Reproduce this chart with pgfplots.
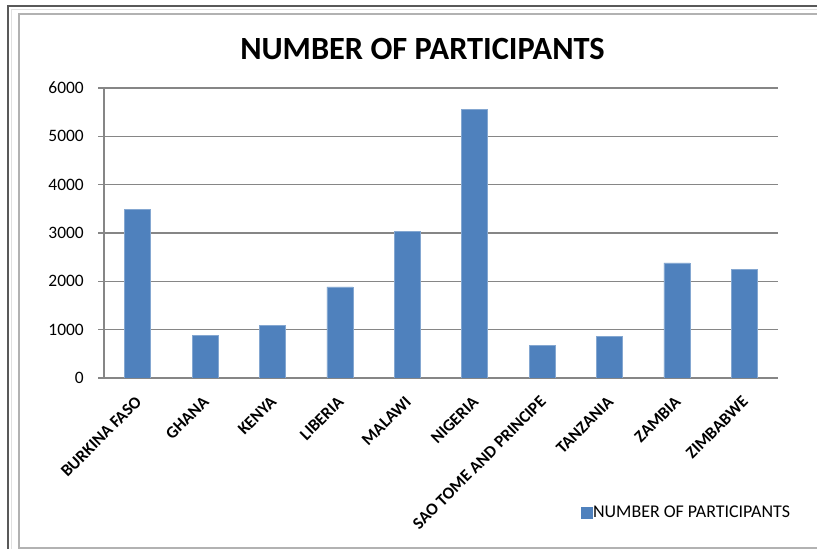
\documentclass[border=0pt]{standalone}
\usepackage{fontspec}
\setmainfont{Carlito}
\usepackage{pgfplots}
\pgfplotsset{compat=1.18}
\definecolor{barblue}{RGB}{79,129,189}
\definecolor{gridgray}{RGB}{134,134,134}
\begin{document}
\begin{tikzpicture}[x=1bp,y=1bp]
\path[use as bounding box] (0,0) rectangle (817,549);
\clip (0,0) rectangle (817,549);
\fill[white] (0,0) rectangle (817,549);
\draw[line width=1.5bp, black!65] (8,-5) -- (8,543) -- (830,543);
\draw[line width=1bp, black!12] (11.5,-5) -- (11.5,539.5) -- (830,539.5);
\draw[line width=1.5bp, black!30] (830,1) -- (19,1) -- (19,535) -- (830,535);
\node[anchor=base, inner sep=0pt, font=\fontsize{32.5}{39}\selectfont\bfseries] at (422.5,489) {NUMBER OF PARTICIPANTS};
\begin{axis}[
  at={(104bp,171bp)}, anchor=south west, scale only axis,
  width=674bp, height=290bp,
  xmin=-0.5, xmax=9.5, ymin=0, ymax=6000,
  axis x line*=bottom, axis y line*=left,
  axis line style={gridgray, line width=1.2bp},
  ytick={0,1000,2000,3000,4000,5000,6000},
  ymajorgrids, grid style={gridgray, line width=1.2bp},
  tick align=outside, major tick length=6bp,
  ytick style={gridgray, line width=1.2bp},
  xtick style={draw=none},
  xtick={0,1,2,3,4,5,6,7,8,9},
  xticklabels={BURKINA FASO,GHANA,KENYA,LIBERIA,MALAWI,NIGERIA,SAO TOME AND PRINCIPE,TANZANIA,ZAMBIA,ZIMBABWE},
  xticklabel style={font=\fontsize{17}{20}\selectfont\bfseries, yshift=-15bp, xshift=1bp, rotate=45, anchor=east, inner sep=0pt},
  yticklabel style={font=\fontsize{17.5}{21}\selectfont, xshift=-14bp, anchor=east, inner sep=0pt},
  /pgf/number format/assume math mode=true,
  /pgf/number format/1000 sep={},
  ybar, bar width=26bp,
  legend style={at={(0.7077,-0.4638)}, anchor=west, draw=none, fill=none, inner sep=0pt, outer sep=0pt,
    font=\fontsize{18}{22}\selectfont, nodes={inner sep=0.5bp},
    /tikz/every even column/.style={column sep=0pt}},
  legend image code/.code={\fill[barblue] (0bp,-5.5bp) rectangle (11bp,5.5bp);},
]
\addplot[fill=barblue, draw=barblue!70!white, line width=0.6bp] coordinates {
 (0,3490) (1,875) (2,1095) (3,1886) (4,3030) (5,5560) (6,680) (7,858) (8,2380) (9,2254)};
\addlegendentry{NUMBER OF PARTICIPANTS}
\end{axis}
\end{tikzpicture}
\end{document}
